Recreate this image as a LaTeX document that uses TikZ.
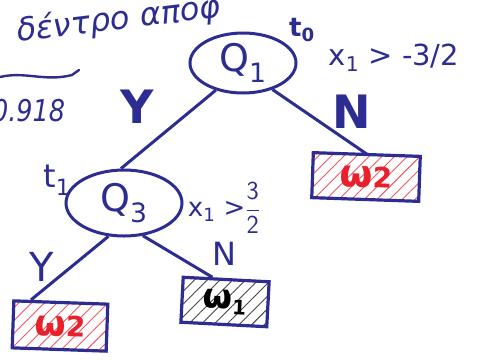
\documentclass[tikz,border=0pt]{standalone}
\usepackage{fontspec}
\setmainfont{DejaVu Sans}
\usetikzlibrary{shapes.geometric,patterns.meta}
\definecolor{pen}{RGB}{45,45,145}
\definecolor{redpen}{RGB}{232,32,44}
\definecolor{graypen}{RGB}{70,70,70}
\tikzset{
  qnode/.style={draw=pen, ellipse, line width=3pt, inner sep=0pt, text=pen, font=\fontsize{38}{40}\selectfont},
  leafbox/.style={draw=pen, rectangle, line width=3.2pt, inner sep=0pt},
  redhatch/.style={pattern={Lines[angle=45,distance=9pt,line width=0.9pt]}, pattern color=redpen!75},
  grayhatch/.style={pattern={Lines[angle=45,distance=9pt,line width=0.9pt]}, pattern color=graypen},
  edge/.style={draw=pen, line width=3pt},
  lbl/.style={text=pen, inner sep=0pt},
}
\begin{document}
\begin{tikzpicture}[x=1pt,y=-1pt]
\useasboundingbox[fill=white] (0,0) rectangle (485,360);
% top partial text
\node[lbl, anchor=base west, rotate=7, font=\fontsize{32}{34}\itshape] (title) at (18,42) {δέντρο αποφ};
% wavy line and number
\draw[pen, line width=2.4pt, line cap=round] (0,77) .. controls (25,71) and (45,82) .. (72,75) -- (79,70);
\node[lbl, anchor=west, xscale=0.85, font=\fontsize{30}{32}\itshape] (val) at (-8,111) {0.918};
% nodes
\node[qnode, minimum width=106pt, minimum height=60pt] (q1) at (243,63) {Q\textsubscript{1}};
\node[qnode, minimum width=116pt, minimum height=66pt] (q3) at (124,203) {Q\textsubscript{3}};
\node[leafbox, redhatch, minimum width=107pt, minimum height=45pt, rotate=-2] (l1) at (366,177) {\color{redpen}\bfseries\fontsize{38}{40}\selectfont ω\fontsize{28}{30}\selectfont 2};
\node[leafbox, redhatch, minimum width=94pt, minimum height=47pt, rotate=-2] (l2) at (60,326) {\color{redpen}\bfseries\fontsize{36}{38}\selectfont ω\fontsize{28}{30}\selectfont 2};
\node[leafbox, grayhatch, minimum width=86pt, minimum height=45pt, rotate=-3] (l3) at (225,302) {\color{black}\bfseries\fontsize{34}{36}\selectfont ω\textsubscript{\fontsize{20}{22}\selectfont 1}};
% edges
\draw[edge] (q1.225) -- (q3.95);
\draw[edge] (q1.318) -- (l1.north);
\draw[edge] (q3.245) -- (l2.140);
\draw[edge] (q3.300) -- (l3.120);
% labels
\node[lbl, font=\fontsize{26}{28}\bfseries] (t0) at (302,30) {t\textsubscript{0}};
\node[lbl, font=\fontsize{29}{31}\selectfont] (c1) at (394,58) {x\textsubscript{1} > -3/2};
\node[lbl, font=\fontsize{32}{34}\selectfont] (t1) at (57,180) {t\textsubscript{1}};
\node[lbl, font=\fontsize{26}{28}\selectfont] (c3) at (224,208) {x\textsubscript{1} >$\displaystyle\frac{\mathsf{3}}{\mathsf{2}}$};
\node[lbl, font=\fontsize{46}{48}\bfseries] (y1) at (137,107) {Y};
\node[lbl, font=\fontsize{46}{48}\bfseries] (n1) at (352,112) {N};
\node[lbl, font=\fontsize{40}{42}\selectfont] (y2) at (42,267) {Y};
\node[lbl, font=\fontsize{32}{34}\selectfont] (n2) at (224,254) {N};
\end{tikzpicture}
\end{document}
